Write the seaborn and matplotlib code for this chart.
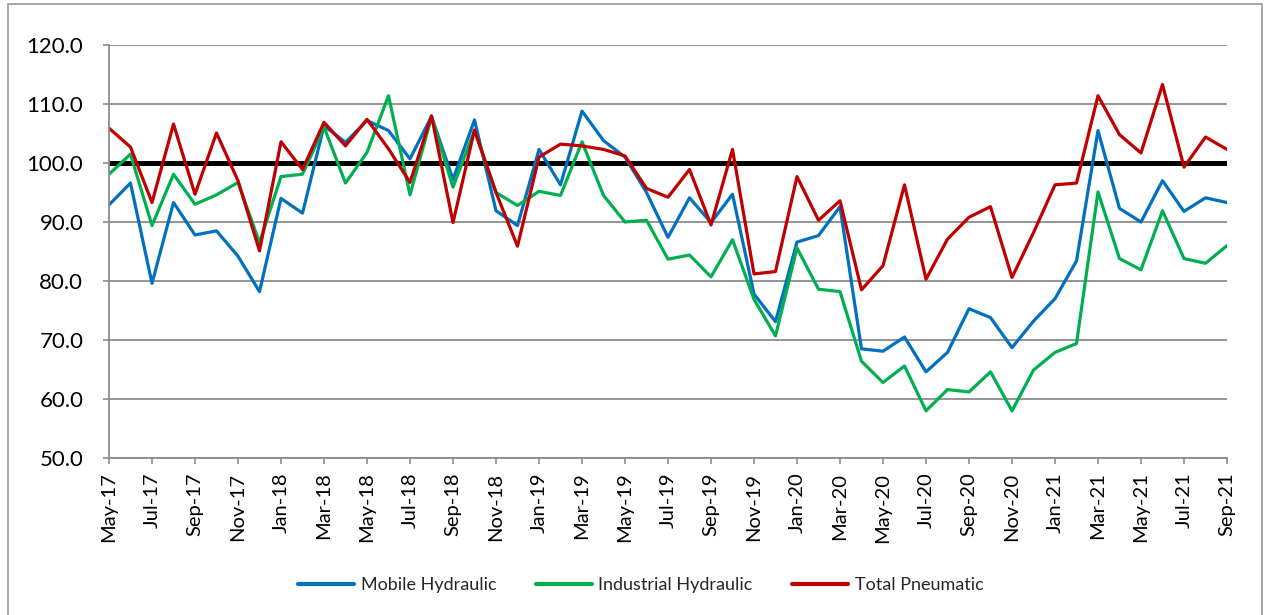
import matplotlib
matplotlib.use("Agg")
import matplotlib.pyplot as plt
from matplotlib.patches import Rectangle
import seaborn as sns
import pandas as pd
import numpy as np

# month labels May-17 .. Sep-21
months = pd.date_range("2017-05-01", "2021-09-01", freq="MS")
month_labels = [d.strftime("%b-%y") for d in months]

mobile_hydraulic = [
    92.9, 96.6, 79.6, 93.3, 87.8, 88.5, 84.2, 78.2, 94.0, 91.5, 106.3, 103.5,
    107.2, 105.5, 100.7, 107.9, 97.2, 107.3, 91.9, 89.4, 102.3, 96.3, 108.8, 103.8,
    101.0, 95.0, 87.4, 94.1, 89.9, 94.7, 77.8, 73.1, 86.6, 87.7, 92.6, 68.5,
    68.1, 70.5, 64.6, 67.9, 75.3, 73.8, 68.7, 73.2, 77.0, 83.4, 105.5, 92.3,
    90.0, 97.0, 91.8, 94.1, 93.3,
]
industrial_hydraulic = [
    98.1, 101.5, 89.4, 98.1, 93.0, 94.6, 96.7, 86.5, 97.7, 98.1, 106.1, 96.6,
    101.8, 111.4, 94.6, 107.8, 95.9, 105.5, 95.0, 92.8, 95.2, 94.5, 103.6, 94.5,
    90.0, 90.3, 83.7, 84.4, 80.7, 87.0, 76.9, 70.7, 85.6, 78.6, 78.2, 66.4,
    62.8, 65.6, 58.0, 61.6, 61.2, 64.6, 58.0, 64.9, 67.9, 69.4, 95.1, 83.8,
    81.9, 91.9, 83.8, 83.0, 86.0,
]
total_pneumatic = [
    105.9, 102.7, 93.3, 106.6, 94.7, 105.1, 97.0, 85.1, 103.6, 98.9, 106.9, 102.9,
    107.4, 102.4, 96.7, 108.0, 89.9, 105.6, 95.0, 85.9, 101.0, 103.2, 102.9, 102.3,
    101.2, 95.7, 94.2, 98.9, 89.5, 102.3, 81.2, 81.6, 97.7, 90.3, 93.6, 78.5,
    82.6, 96.3, 80.3, 87.1, 90.8, 92.6, 80.6, 88.2, 96.3, 96.6, 111.4, 104.8,
    101.7, 113.3, 99.3, 104.4, 102.3,
]

series_names = ["Mobile Hydraulic", "Industrial Hydraulic", "Total Pneumatic"]
series_colors = ["#0070C0", "#00B050", "#C00000"]

idx = np.arange(len(month_labels))
df = pd.concat([
    pd.DataFrame({"month": idx, "value": vals, "series": name})
    for name, vals in zip(series_names, [mobile_hydraulic, industrial_hydraulic, total_pneumatic])
])

sns.set_theme(style="white")
plt.rcParams["font.family"] = ["Lato", "DejaVu Sans"]
grey = "#8c8c8c"

fig = plt.figure(figsize=(12.64, 6.15), dpi=100)
ax = fig.add_axes([109 / 1264, 1 - 458 / 615, (1227 - 109) / 1264, (458 - 45) / 615])

sns.lineplot(data=df, x="month", y="value", hue="series", hue_order=series_names,
             palette=series_colors, linewidth=2.3, ax=ax, legend=True)
ax.axhline(100, color="black", linewidth=3.6, zorder=1.5)

ax.set_xlim(0, len(month_labels) - 1)
ax.set_ylim(50, 120)
ax.set_yticks(np.arange(50, 121, 10))
ax.set_yticklabels([f"{v:.1f}" for v in np.arange(50, 121, 10)], fontsize=16)
ax.set_xticks(idx[::2])
ax.set_xticklabels(month_labels[::2], rotation=90, fontsize=14.5)
ax.set_xlabel("")
ax.set_ylabel("")

ax.yaxis.grid(True, color=grey, linewidth=1.3)
ax.set_axisbelow(True)
for side in ["top", "right"]:
    ax.spines[side].set_visible(False)
for side in ["left", "bottom"]:
    ax.spines[side].set_color(grey)
    ax.spines[side].set_linewidth(1.3)
ax.tick_params(axis="both", which="major", direction="out", length=4.5, width=1.2,
               color=grey, labelcolor="black", left=True, bottom=True)
ax.tick_params(axis="y", pad=14)
ax.tick_params(axis="x", pad=6)

handles, labels = ax.get_legend_handles_labels()
ax.legend(handles, labels, loc="center", bbox_to_anchor=(0.507, 1 - 585 / 615),
          bbox_transform=fig.transFigure, ncol=3, frameon=False, fontsize=13,
          handlelength=3.1, handletextpad=0.35, columnspacing=2.2)
for line in ax.get_legend().get_lines():
    line.set_linewidth(3)

# outer chart border
fig.add_artist(Rectangle((8 / 1264, -0.02), (1262 - 8) / 1264, 1.02 - 4 / 615 + 0.0,
                         transform=fig.transFigure, fill=False, edgecolor="#a0a0a0",
                         linewidth=1.3))

fig.savefig("out.png", dpi=100)
